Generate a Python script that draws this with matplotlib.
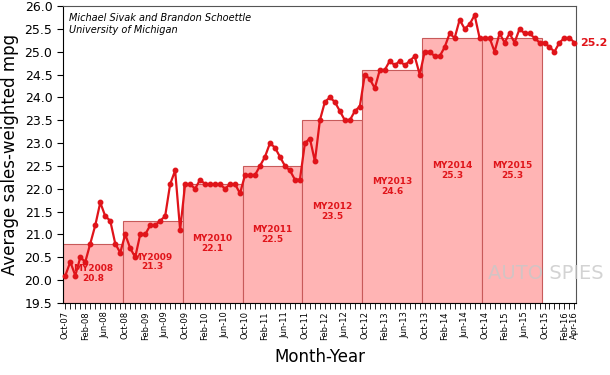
import matplotlib
matplotlib.use("Agg")
import matplotlib.pyplot as plt
import numpy as np

# monthly sales-weighted mpg, Oct-07 .. Apr-16
mpg = [20.1, 20.4, 20.1,
       20.5, 20.4, 20.8, 21.2, 21.7, 21.4, 21.3, 20.8, 20.6, 21.0, 20.7, 20.5,
       21.0, 21.0, 21.2, 21.2, 21.3, 21.4, 22.1, 22.4, 21.1, 22.1, 22.1, 22.0,
       22.2, 22.1, 22.1, 22.1, 22.1, 22.0, 22.1, 22.1, 21.9, 22.3, 22.3, 22.3,
       22.5, 22.7, 23.0, 22.9, 22.7, 22.5, 22.4, 22.2, 22.2, 23.0, 23.1, 22.6,
       23.5, 23.9, 24.0, 23.9, 23.7, 23.5, 23.5, 23.7, 23.8, 24.5, 24.4, 24.2,
       24.6, 24.6, 24.8, 24.7, 24.8, 24.7, 24.8, 24.9, 24.5, 25.0, 25.0, 24.9,
       24.9, 25.1, 25.4, 25.3, 25.7, 25.5, 25.6, 25.8, 25.3, 25.3, 25.3, 25.0,
       25.4, 25.2, 25.4, 25.2, 25.5, 25.4, 25.4, 25.3, 25.2, 25.2, 25.1, 25.0,
       25.2, 25.3, 25.3, 25.2]

model_years = ["MY2008", "MY2009", "MY2010", "MY2011", "MY2012", "MY2013", "MY2014", "MY2015"]
my_mpg = [20.8, 21.3, 22.1, 22.5, 23.5, 24.6, 25.3, 25.3]

tick_labels = ["Oct-07", "Feb-08", "Jun-08", "Oct-08", "Feb-09", "Jun-09", "Oct-09",
               "Feb-10", "Jun-10", "Oct-10", "Feb-11", "Jun-11", "Oct-11", "Feb-12",
               "Jun-12", "Oct-12", "Feb-13", "Jun-13", "Oct-13", "Feb-14", "Jun-14",
               "Oct-14", "Feb-15", "Jun-15", "Oct-15", "Feb-16", "Apr-16"]

red = "#e0141a"
ymin = 19.5

fig = plt.figure(figsize=(6.1, 3.75), dpi=100)
ax = fig.add_axes([0.103, 0.192, 0.842, 0.792])

months = np.arange(len(mpg))
bar_x = np.arange(len(model_years)) * 12 + 5.5
heights = np.array(my_mpg) - ymin
ax.bar(bar_x, heights, width=12, bottom=ymin, color="#ffb4b4",
       edgecolor="#c85a5a", linewidth=0.8, zorder=1)

for x, h, name, v in zip(bar_x, heights, model_years, my_mpg):
    ax.text(x, ymin + h / 2, f"{name}\n{v:.1f}", ha="center", va="center",
            fontsize=6.5, fontweight="bold", color=red, linespacing=1.1, zorder=3)

ax.plot(months, mpg, color=red, lw=1.6, marker="o", ms=3.2, zorder=4, clip_on=False)
ax.annotate(f"{mpg[-1]:.1f}", (months[-1], mpg[-1]), xytext=(4, 0),
            textcoords="offset points", ha="left", va="center",
            fontsize=8, fontweight="bold", color=red)

ax.text(0.012, 0.975, "Michael Sivak and Brandon Schoettle\nUniversity of Michigan",
        transform=ax.transAxes, ha="left", va="top", fontsize=7, style="italic",
        linespacing=1.2)

ax.set_xlim(-0.5, 102.4)
ax.set_ylim(19.5, 26.0)
ax.set_yticks(np.arange(19.5, 26.01, 0.5))
ax.set_yticklabels([f"{v:.1f}" for v in np.arange(19.5, 26.01, 0.5)], fontsize=9)

major = list(range(0, 101, 4)) + [102]
ax.set_xticks(major)
ax.set_xticklabels(tick_labels, rotation=90, fontsize=6)
ax.set_xticks(months, minor=True)
ax.tick_params(axis="x", which="both", length=4, width=0.6, pad=2)
ax.tick_params(axis="y", length=4, width=0.8)

for s in ["top", "right"]:
    ax.spines[s].set_color("#555555")

ax.set_ylabel("Average sales-weighted mpg", fontsize=12)
ax.set_xlabel("Month-Year", fontsize=12, labelpad=6)

fig.text(0.99, 0.27, "AUTO SPIES", ha="right", va="center", fontsize=14,
         color="#c8c8c8", alpha=0.8)

fig.savefig("out.png", dpi=100)
